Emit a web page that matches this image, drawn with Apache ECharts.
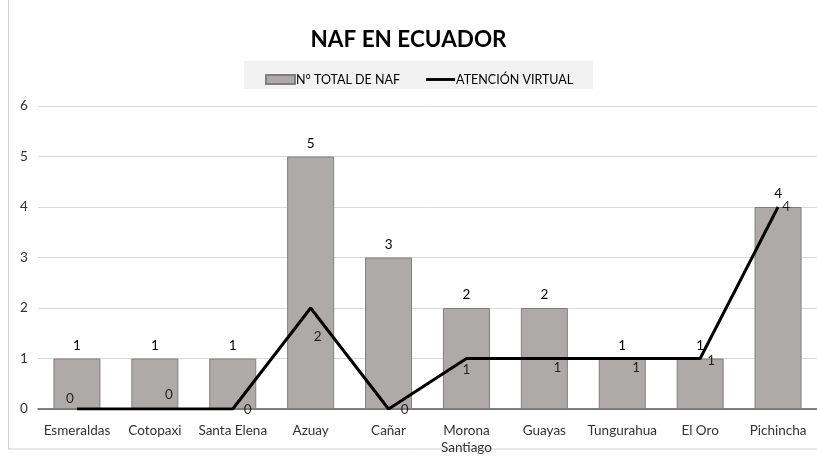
<!DOCTYPE html>
<html>
<head>
<meta charset="utf-8">
<script src="https://cdn.jsdelivr.net/npm/echarts@6/dist/echarts.min.js"></script>
<style>
  html, body { margin: 0; padding: 0; background: #fff; }
  #chart { width: 817px; height: 459px; }
</style>
</head>
<body>
<div id="chart"></div>
<script>
var categories = ['Esmeraldas', 'Cotopaxi', 'Santa Elena', 'Azuay', 'Cañar', 'Morona\nSantiago', 'Guayas', 'Tungurahua', 'El Oro', 'Pichincha']
var totalNaf = [1, 1, 1, 5, 3, 2, 2, 1, 1, 4]
var atencionVirtual = [0, 0, 0, 2, 0, 1, 1, 1, 1, 4]
var yTicks = [0, 1, 2, 3, 4, 5, 6]

// where Excel put each line label, relative to its point
var lineLabelOffsets = [[-7, -10], [14, -14], [15, 1], [7, 29], [16, 1], [0, 11], [13, 9], [14, 9], [11, 2], [8, 0]]

var font = 'Lato, "Open Sans", sans-serif'
var chart = echarts.init(document.getElementById('chart'))

var option = {
  animation: false,
  textStyle: { fontFamily: font },
  title: {
    text: 'NAF EN ECUADOR',
    left: 'center',
    top: 23,
    textStyle: { fontSize: 22.5, fontWeight: 'bold', color: '#000', fontFamily: font }
  },
  graphic: [
    { type: 'rect', shape: { x: 8.5, y: -2, width: 820, height: 451 }, style: { fill: 'none', stroke: '#d0d0d0', lineWidth: 1 } },
    { type: 'rect', z: -1, shape: { x: 244, y: 61, width: 349, height: 28 }, style: { fill: '#f2f2f2' } }
  ],
  legend: {
    top: 68,
    left: 260,
    itemGap: 26,
    itemWidth: 29,
    itemHeight: 9,
    textStyle: { fontSize: 12.5, color: '#000', fontFamily: font, padding: [0, 0, 0, -4] },
    data: [
      { name: 'N° TOTAL DE NAF', icon: 'rect' },
      { name: 'ATENCIÓN VIRTUAL', icon: 'path://M0,0H30V3H0Z', itemStyle: { color: '#000' } }
    ]
  },
  grid: { left: 38, right: 0, top: 106, bottom: 50, containLabel: false },
  xAxis: {
    type: 'category',
    data: categories,
    axisTick: { show: false },
    axisLine: { lineStyle: { color: '#595959', width: 1.5 } },
    axisLabel: { color: '#333', fontSize: 13.5, margin: 13, interval: 0, lineHeight: 17, fontFamily: font }
  },
  yAxis: {
    type: 'value',
    min: yTicks[0],
    max: yTicks[yTicks.length - 1],
    interval: 1,
    axisLine: { show: false },
    axisTick: { show: false },
    axisLabel: { color: '#333', fontSize: 13.5, margin: 18, align: 'left', fontFamily: font },
    splitLine: { lineStyle: { color: '#d9d9d9' } }
  },
  series: [
    {
      name: 'N° TOTAL DE NAF',
      type: 'bar',
      data: totalNaf,
      barWidth: 47,
      itemStyle: { color: '#aeaaaa', borderColor: '#7f7f7f', borderWidth: 1 },
      label: { show: true, position: 'top', distance: 6, color: '#000', fontSize: 13.5, fontFamily: font }
    },
    {
      name: 'ATENCIÓN VIRTUAL',
      type: 'line',
      data: atencionVirtual,
      symbol: 'none',
      lineStyle: { color: '#000', width: 3 },
      itemStyle: { color: '#000' }
    },
    {
      // carries the line's value labels
      name: 'labels',
      type: 'scatter',
      z: 5,
      symbolSize: 0,
      silent: true,
      data: atencionVirtual.map(function (v, i) {
        return { value: v, label: { offset: lineLabelOffsets[i] } }
      }),
      label: { show: true, position: 'inside', color: '#000', fontSize: 13.5, fontFamily: font, formatter: '{c}' }
    }
  ]
}
chart.setOption(option)
</script>
</body>
</html>
